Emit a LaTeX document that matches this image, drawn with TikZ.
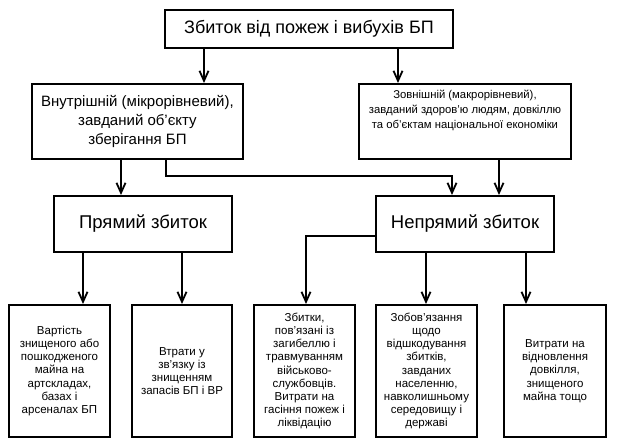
\documentclass[tikz,border=0pt]{standalone}
\usepackage{fontspec}
\setmainfont{Liberation Sans}
\usetikzlibrary{arrows.meta}
\begin{document}
\begin{tikzpicture}[x=1pt,y=-1pt,
  box/.style={draw, line width=2pt, inner sep=0pt, align=center},
  arr/.style={line width=1.8pt, -{Straight Barb[length=10pt,width=9pt]}},
  big/.style={font=\fontsize{18}{22}\selectfont},
  big2/.style={font=\fontsize{18.5}{22}\selectfont},
  mid/.style={font=\fontsize{15}{19}\selectfont},
  sml/.style={font=\fontsize{11.3}{15}\selectfont},
  tiny/.style={font=\fontsize{11.5}{13.2}\selectfont}]
\useasboundingbox (0,0) rectangle (623,440);
% boxes
\node[box, big, minimum width=288pt, minimum height=38pt] (top) at (309,29) {Збиток від пожеж і вибухів БП};
\node[box, mid, minimum width=211pt, minimum height=75pt] (int) at (137.5,121.5) {Внутрішній (мікрорівневий),\\завданий об’єкту\\зберігання БП};
\node[box, minimum width=212pt, minimum height=75pt] (ext) at (465,121.5) {};
\node[sml, align=center] (extt) at (465,110) {Зовнішній (макрорівневий),\\завданий здоров’ю людям, довкіллю\\та об’єктам національної економіки};
\node[box, big2, minimum width=178pt, minimum height=56pt] (dir) at (143,224) {Прямий збиток};
\node[box, big2, minimum width=178pt, minimum height=56pt] (ind) at (465,224) {Непрямий збиток};
\node[box, tiny, minimum width=101pt, minimum height=132pt] (b1) at (59.5,371) {Вартість\\знищеного або\\пошкодженого\\майна на\\артскладах,\\базах і\\арсеналах БП};
\node[box, tiny, minimum width=100pt, minimum height=132pt] (b2) at (182,371) {Втрати у\\зв'язку із\\знищенням\\запасів БП і ВР};
\node[box, tiny, minimum width=101pt, minimum height=132pt] (b3) at (304.5,371) {Збитки,\\пов'язані із\\загибеллю і\\травмуванням\\військово-\\службовців.\\Витрати на\\гасіння пожеж і\\ліквідацію};
\node[box, tiny, minimum width=101pt, minimum height=132pt] (b4) at (426.5,371) {Зобов'язання\\щодо\\відшкодування\\збитків,\\завданих\\населенню,\\навколишньому\\середовищу і\\державі};
\node[box, tiny, minimum width=102pt, minimum height=132pt] (b5) at (555,371) {Витрати на\\відновлення\\довкілля,\\знищеного\\майна тощо};
% x positions
\coordinate (x1) at (204,0);
\coordinate (x2) at (398,0);
\coordinate (x3) at (121,0);
\coordinate (x4) at (166,0);
\coordinate (x5) at (452,0);
\coordinate (x6) at (499,0);
\coordinate (x7) at (83,0);
\coordinate (x8) at (182,0);
\coordinate (x9) at (306,0);
\coordinate (x10) at (426,0);
\coordinate (x11) at (526,0);
\coordinate (y1) at (0,176);
\coordinate (y2) at (0,236);
% connectors
\draw[arr] (top.south -| x1) -- (int.north -| x1);
\draw[arr] (top.south -| x2) -- (ext.north -| x2);
\draw[arr] (int.south -| x3) -- (dir.north -| x3);
\draw[arr] (int.south -| x4) |- (y1 -| x5) -- (ind.north -| x5);
\draw[arr] (ext.south -| x6) -- (ind.north -| x6);
\draw[arr] (dir.south -| x7) -- (b1.north -| x7);
\draw[arr] (dir.south -| x8) -- (b2.north -| x8);
\draw[arr] (ind.west |- y2) -| (b3.north -| x9);
\draw[arr] (ind.south -| x10) -- (b4.north -| x10);
\draw[arr] (ind.south -| x11) -- (b5.north -| x11);
\end{tikzpicture}
\end{document}
